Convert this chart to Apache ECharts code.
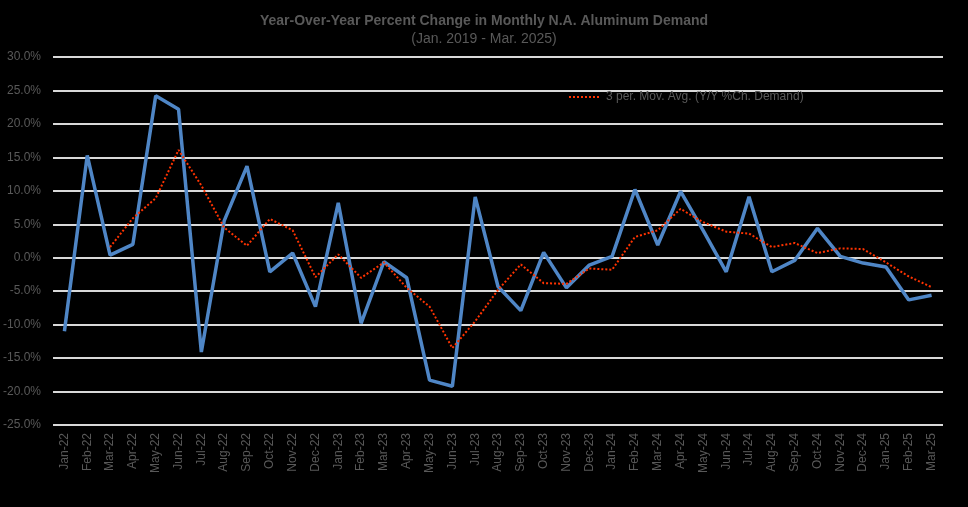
<!DOCTYPE html>
<html lang="en">
<head>
<meta charset="UTF-8">
<title>Y/Y Percent Change in Monthly N.A. Aluminum Demand</title>
<script src="https://cdn.jsdelivr.net/npm/echarts@6/dist/echarts.min.js"></script>
<style>
  html, body { margin: 0; padding: 0; background: #000; }
  #main { width: 968px; height: 507px; }
</style>
</head>
<body>
<div id="main"></div>
<script type="text/javascript">
var months = ['Jan-22', 'Feb-22', 'Mar-22', 'Apr-22', 'May-22', 'Jun-22', 'Jul-22', 'Aug-22', 'Sep-22', 'Oct-22', 'Nov-22', 'Dec-22',
    'Jan-23', 'Feb-23', 'Mar-23', 'Apr-23', 'May-23', 'Jun-23', 'Jul-23', 'Aug-23', 'Sep-23', 'Oct-23', 'Nov-23', 'Dec-23',
    'Jan-24', 'Feb-24', 'Mar-24', 'Apr-24', 'May-24', 'Jun-24', 'Jul-24', 'Aug-24', 'Sep-24', 'Oct-24', 'Nov-24', 'Dec-24',
    'Jan-25', 'Feb-25', 'Mar-25'];

// Y/Y % change in demand (blue line)
var yoyDemand = [-11.0, 15.3, 0.4, 2.0, 24.2, 22.2, -14.1, 5.5, 13.7, -2.1, 0.7, -7.3,
    8.2, -9.8, -0.6, -3.0, -18.3, -19.2, 9.1, -4.3, -7.9, 0.8, -4.5, -1.1,
    0.2, 10.2, 1.9, 9.9, 4.0, -2.1, 9.1, -2.1, -0.4, 4.4, 0.2, -0.8,
    -1.4, -6.3, -5.6];

// 3 period moving average (red dotted line), starts at Mar-22
var movAvg = ['-', '-', 1.6, 5.9, 8.9, 16.1, 10.8, 4.5, 1.8, 5.8, 4.1, -2.9,
    0.5, -3.0, -0.7, -4.5, -7.3, -13.5, -9.5, -4.8, -1.0, -3.8, -3.9, -1.6,
    -1.8, 3.1, 4.1, 7.3, 5.3, 3.9, 3.6, 1.6, 2.2, 0.7, 1.4, 1.3,
    -0.7, -2.8, -4.4];

var yMin = -25, yMax = 30, yStep = 5;

var myChart = echarts.init(document.getElementById('main'));
var option = {
    backgroundColor: '#000000',
    animation: false,
    title: {
        text: 'Year-Over-Year Percent Change in Monthly N.A. Aluminum Demand',
        subtext: '(Jan. 2019 - Mar. 2025)',
        left: 'center',
        top: 9,
        itemGap: 4,
        textStyle: {
            color: '#595959',
            fontFamily: 'Liberation Sans',
            fontWeight: 'bold',
            fontSize: 14
        },
        subtextStyle: {
            color: '#595959',
            fontFamily: 'Liberation Sans',
            fontSize: 14
        }
    },
    legend: {
        left: 563,
        top: 86,
        data: ['3 per. Mov. Avg. (Y/Y %Ch. Demand)'],
        itemWidth: 32,
        itemHeight: 10,
        itemGap: 4,
        itemStyle: { opacity: 0 },
        textStyle: {
            color: '#595959',
            fontFamily: 'Liberation Sans',
            fontSize: 12
        }
    },
    grid: {
        left: 50,
        right: 25,
        top: 57,
        bottom: 82
    },
    xAxis: {
        type: 'category',
        data: months,
        boundaryGap: true,
        axisLine: { show: false },
        axisTick: { show: false },
        axisLabel: {
            rotate: 90,
            interval: 0,
            margin: 8,
            color: '#595959',
            fontFamily: 'Liberation Sans',
            fontSize: 12
        }
    },
    yAxis: {
        type: 'value',
        min: yMin,
        max: yMax,
        interval: yStep,
        axisLine: { show: false },
        axisTick: { show: false },
        axisLabel: {
            margin: 12,
            color: '#595959',
            fontFamily: 'Liberation Sans',
            fontSize: 12,
            formatter: function (v) { return v.toFixed(1) + '%'; }
        },
        splitLine: {
            lineStyle: { color: '#d9d9d9', width: 2 }
        }
    },
    series: [
        {
            name: 'Y/Y %Ch. Demand',
            type: 'line',
            data: yoyDemand,
            symbol: 'none',
            lineStyle: { color: '#4f86c6', width: 3.5 },
            itemStyle: { color: '#4f86c6' },
            z: 2
        },
        {
            name: '3 per. Mov. Avg. (Y/Y %Ch. Demand)',
            type: 'line',
            data: movAvg,
            symbol: 'none',
            lineStyle: { color: '#ff3300', width: 2, type: 'dotted' },
            itemStyle: { color: '#ff3300' },
            z: 3
        }
    ]
};
myChart.setOption(option);
</script>
</body>
</html>
